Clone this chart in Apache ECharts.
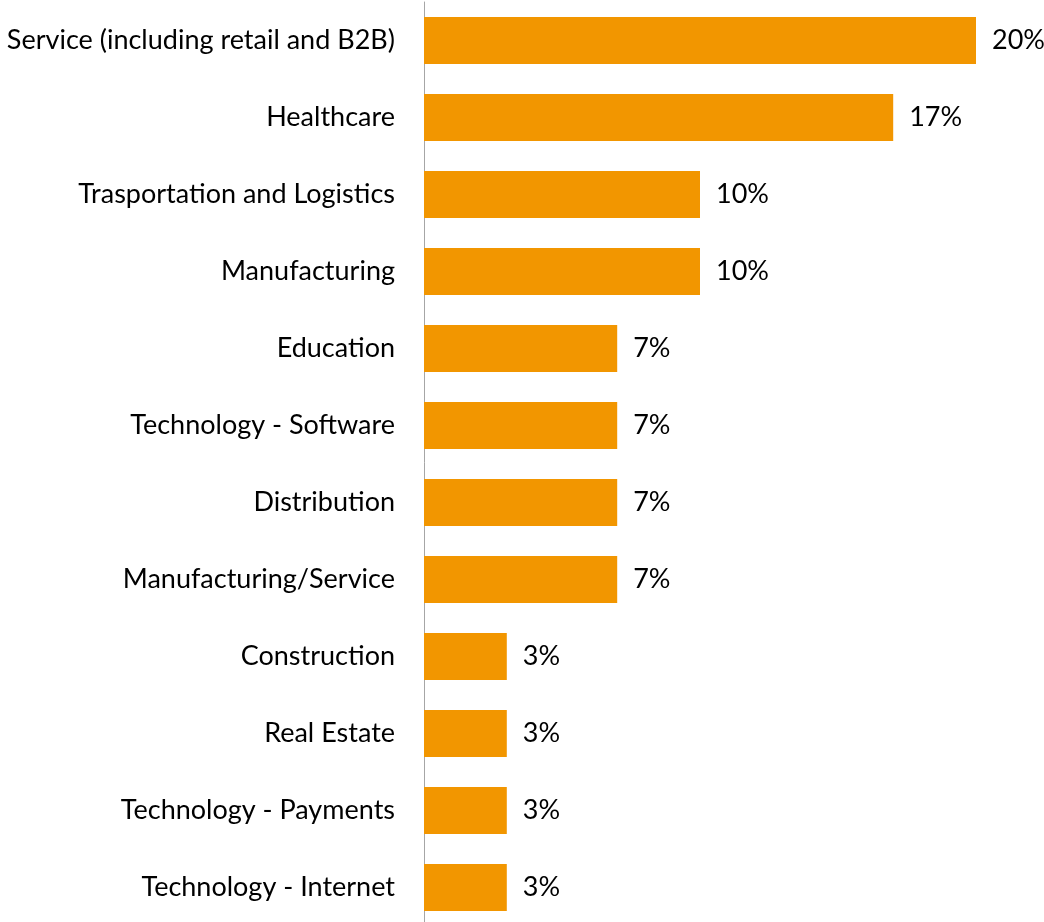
<!DOCTYPE html>
<html>
<head>
<meta charset="utf-8">
<script src="https://cdn.jsdelivr.net/npm/echarts@6/dist/echarts.min.js"></script>
<style>
  html, body { margin: 0; padding: 0; background: #ffffff; }
  #chart { width: 1044px; height: 922px; }
</style>
</head>
<body>
<div id="chart"></div>
<script>
// Industry categories, listed top to bottom
const categories = [
  'Service (including retail and B2B)',
  'Healthcare',
  'Trasportation and Logistics',
  'Manufacturing',
  'Education',
  'Technology - Software',
  'Distribution',
  'Manufacturing/Service',
  'Construction',
  'Real Estate',
  'Technology - Payments',
  'Technology - Internet'
];

// Share of respondents per industry (%)
const shares = [20, 17, 10, 10, 7, 7, 7, 7, 3, 3, 3, 3];

const FONT = 'Lato, "Open Sans", sans-serif';

const chart = echarts.init(document.getElementById('chart'), null, { renderer: 'canvas' });

chart.setOption({
  animation: false,
  backgroundColor: '#ffffff',
  grid: {
    left: 424, width: 552, top: 2, height: 924,
    containLabel: false,
    outerBoundsMode: 'none'
  },
  xAxis: {
    type: 'value',
    min: 0,
    max: 20,
    show: false
  },
  yAxis: {
    type: 'category',
    data: categories,
    inverse: true,
    axisLine: { show: true, lineStyle: { color: '#A6A6A6', width: 1 } },
    axisTick: { show: false },
    axisLabel: {
      color: '#000000',
      fontFamily: FONT,
      fontSize: 27,
      margin: 29
    },
    splitLine: { show: false }
  },
  series: [{
    type: 'bar',
    data: shares,
    barCategoryGap: '39%',
    itemStyle: { color: '#F29600' },
    label: {
      show: true,
      position: 'right',
      distance: 16,
      color: '#000000',
      fontFamily: FONT,
      fontSize: 27,
      formatter: p => p.value + '%'
    }
  }]
});
</script>
</body>
</html>
